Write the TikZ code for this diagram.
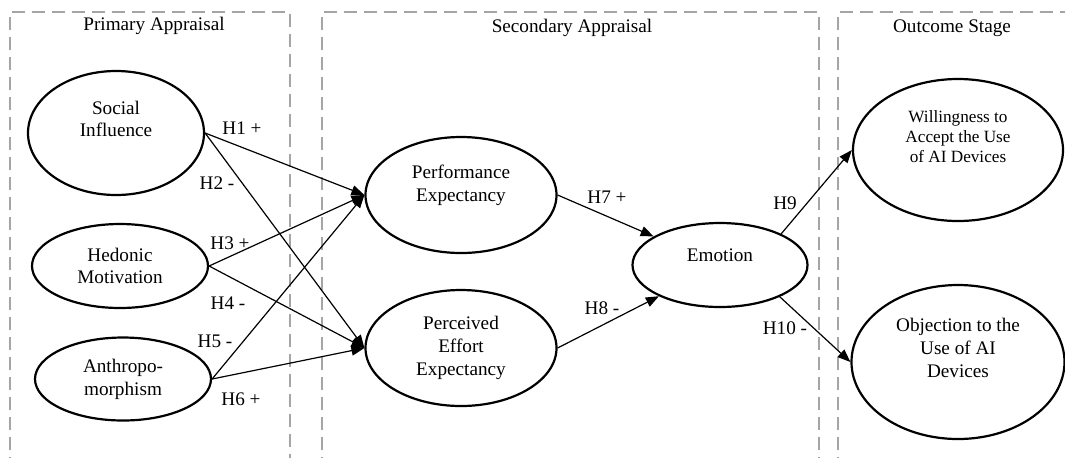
\documentclass[tikz,border=0pt]{standalone}
\usepackage{fontspec}
\setmainfont{Liberation Serif}
\definecolor{stagegray}{RGB}{165, 165, 165}
\usetikzlibrary{shapes, arrows.meta, positioning}

\begin{document}
\begin{tikzpicture}[x=0.5pt, y=-0.5pt,
    construct/.style={draw, ellipse, line width=1.1pt, inner sep=0pt},
    ctext/.style={align=center, inner sep=0pt, font=\fontsize{9.6}{11.4}\selectfont},
    stage/.style={draw=stagegray, line width=1pt, dash pattern=on 6.5pt off 3.5pt},
    hyp/.style={draw, line width=0.6pt, -{Triangle[length=6.5pt, width=5pt]}},
    hlabel/.style={inner sep=0pt, font=\fontsize{9.6}{11.4}\selectfont}]
  \useasboundingbox (0,0) rectangle (1065,457);

  % stages
  \draw[stage] (10,470) |- (290,12) -- (290,470);
  \draw[stage] (322,470) |- (819,12) -- (819,470);
  \draw[stage] (838,470) |- (1080,12);
  \node[ctext] (primary) at (154,26) {Primary Appraisal};
  \node[ctext] (secondary) at (572,28) {Secondary Appraisal};
  \node[ctext] (outcome) at (952,28) {Outcome Stage};

  % constructs
  \node[construct, minimum width=88pt, minimum height=62pt,
    label={[ctext, yshift=7pt]center:Social\\Influence}] (social) at (116,133) {};
  \node[construct, minimum width=88pt, minimum height=42pt,
    label={[ctext]center:Hedonic\\Motivation}] (hedonic) at (120,266) {};
  \node[construct, minimum width=88pt, minimum height=41.5pt,
    label={[ctext]center:Anthropo-\\morphism}] (anthro) at (123,379) {};
  \node[construct, minimum width=95.5pt, minimum height=58pt,
    label={[ctext, yshift=5pt]center:Performance\\Expectancy}] (perf) at (461,195) {};
  \node[construct, minimum width=95.5pt, minimum height=58pt,
    label={[ctext]center:Perceived\\Effort\\Expectancy}] (effort) at (461,348) {};
  \node[construct, minimum width=87.5pt, minimum height=42pt,
    label={[ctext, yshift=5pt]center:Emotion}] (emotion) at (720,265) {};
  \node[construct, minimum width=105pt, minimum height=71pt,
    label={[ctext, yshift=6.5pt, font=\fontsize{8.6}{10}\selectfont]center:Willingness to\\Accept the Use\\of AI Devices}] (accept) at (958,150) {};
  \node[construct, minimum width=106.5pt, minimum height=77pt,
    label={[ctext, yshift=7pt]center:Objection to the\\Use of AI\\Devices}] (object) at (958,362) {};

  % hypotheses
  \draw[hyp] (social.east) -- (perf.west);
  \draw[hyp] (social.east) -- (effort.west);
  \draw[hyp] (hedonic.east) -- (perf.west);
  \draw[hyp] (hedonic.east) -- (effort.west);
  \draw[hyp] (anthro.east) -- (perf.west);
  \draw[hyp] (anthro.east) -- (effort.west);
  \draw[hyp] (perf.east) -- (emotion);
  \draw[hyp] (effort.east) -- (emotion);
  \draw[hyp] (emotion.27) -- (accept.west);
  \draw[hyp] (emotion.-28) -- (object.west);

  \node[hlabel] (h1) at (242,128) {H1 +};
  \node[hlabel] (h2) at (217,183) {H2 -};
  \node[hlabel] (h3) at (230,243) {H3 +};
  \node[hlabel] (h4) at (228,303) {H4 -};
  \node[hlabel] (h5) at (215,341) {H5 -};
  \node[hlabel] (h6) at (241,399) {H6 +};
  \node[hlabel] (h7) at (607,197) {H7 +};
  \node[hlabel] (h8) at (602,308) {H8 -};
  \node[hlabel] (h9) at (785,203) {H9};
  \node[hlabel] (h10) at (785,328) {H10 -};
\end{tikzpicture}
\end{document}
